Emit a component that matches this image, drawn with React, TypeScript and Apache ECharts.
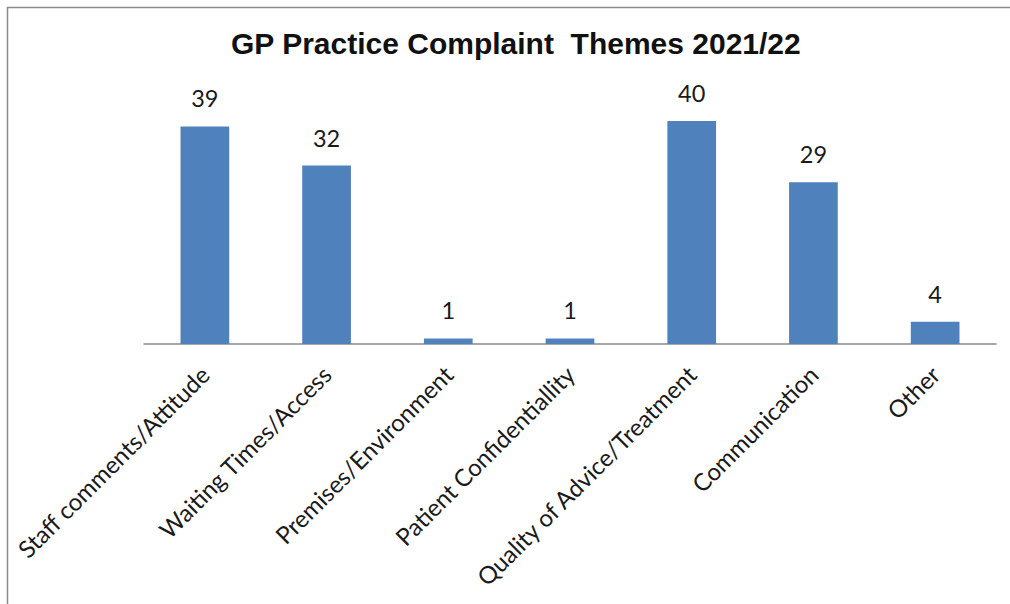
import React, { useEffect, useRef } from "react";
import * as echarts from "echarts";

const categories = [
  "Staff comments/Attitude",
  "Waiting Times/Access",
  "Premises/Environment",
  "Patient Confidentiallity",
  "Quality of Advice/Treatment",
  "Communication",
  "Other",
];
const complaintCounts = [39, 32, 1, 1, 40, 29, 4];
const chartTitle = "GP Practice Complaint  Themes 2021/22";

export default function App() {
  const ref = useRef<HTMLDivElement>(null);
  useEffect(() => {
    if (!ref.current) return;
    const chart = echarts.init(ref.current, null, { renderer: "svg" });
    chart.setOption({
      animation: false,
      backgroundColor: "#ffffff",
      title: {
        text: chartTitle,
        left: 226,
        top: 23,
        textStyle: {
          fontFamily: "Liberation Sans, Arial, sans-serif",
          fontWeight: "bold",
          fontSize: 30,
          color: "#111111",
        },
      },
      graphic: [
        {
          type: "rect",
          shape: { x: 7.5, y: 7.5, width: 1020, height: 620 },
          style: { fill: "none", stroke: "#8a8a8a", lineWidth: 1.5 },
          silent: true,
        },
      ],
      grid: { left: 144, right: 14, top: 93, bottom: 260 },
      xAxis: {
        type: "category",
        data: categories,
        axisLine: { show: true, lineStyle: { color: "#8a8a8a", width: 1.5 } },
        axisTick: { show: false },
        axisLabel: {
          interval: 0,
          rotate: 45,
          margin: 26,
          fontFamily: "Lato, Noto Sans, sans-serif",
          fontSize: 24,
          color: "#1a1a1a",
        },
      },
      yAxis: {
        type: "value",
        min: 0,
        max: 45,
        show: false,
        splitLine: { show: false },
      },
      series: [
        {
          type: "bar",
          data: complaintCounts,
          barWidth: "40%",
          itemStyle: { color: "#4F81BD" },
          label: {
            show: true,
            position: "top",
            distance: 16,
            fontFamily: "Lato, Noto Sans, sans-serif",
            fontSize: 23.5,
            color: "#1a1a1a",
          },
        },
      ],
    });
    return () => chart.dispose();
  }, []);
  return (
    <div
      ref={ref}
      style={{ position: "fixed", left: 0, top: 0, width: 1010, height: 604 }}
    />
  );
}
